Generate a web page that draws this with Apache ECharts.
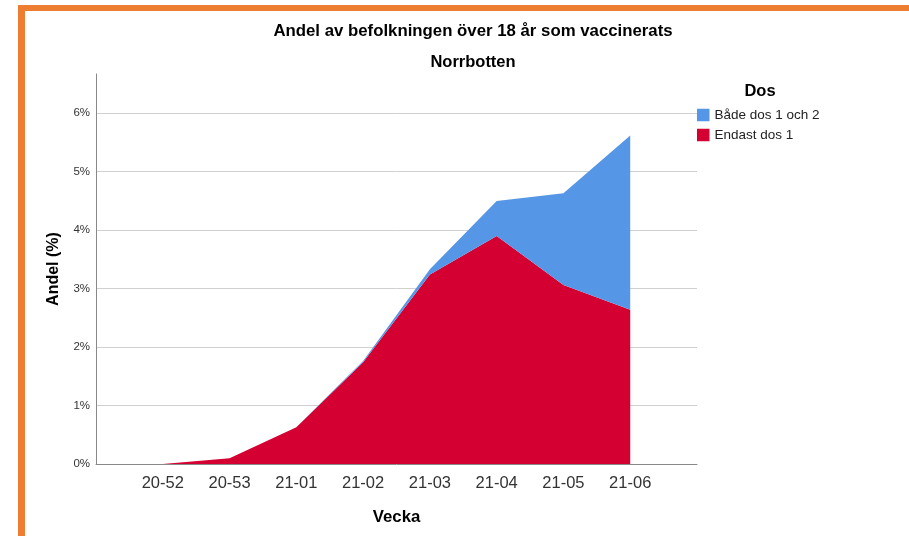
<!DOCTYPE html>
<html>
<head>
<meta charset="utf-8">
<script src="https://cdn.jsdelivr.net/npm/echarts@6/dist/echarts.min.js"></script>
<style>
html,body{margin:0;padding:0;background:#fff;}
#chart{width:909px;height:536px;}
</style>
</head>
<body>
<div id="chart"></div>
<script>
const categories = ['', '20-52', '20-53', '21-01', '21-02', '21-03', '21-04', '21-05', '21-06', ''];
const endastDos1 = [null, 0.0, 0.10, 0.63, 1.74, 3.24, 3.90, 3.06, 2.64, null];
const badaDoser = [null, 0.0, 0.0, 0.0, 0.02, 0.09, 0.60, 1.57, 2.98, null];
const seriesNames = ['Både dos 1 och 2', 'Endast dos 1'];
const titleText = 'Andel av befolkningen över 18 år som vaccinerats';
const subtitleText = 'Norrbotten';
const legendTitle = 'Dos';
const xName = 'Vecka';
const yName = 'Andel (%)';

const BLUE = '#5596E6';
const RED = '#D50032';
const ORANGE = '#ED7D31';
const FONT = 'Liberation Sans, Arial, sans-serif';

const chart = echarts.init(document.getElementById('chart'), null, {renderer: 'canvas'});
chart.setOption({
  animation: false,
  backgroundColor: '#fff',
  textStyle: {fontFamily: FONT},
  title: [
    {text: titleText, left: 468, top: 18, textAlign: 'center',
     textStyle: {fontFamily: FONT, fontSize: 16.8, fontWeight: 'bold', color: '#000'}},
    {text: subtitleText, left: 468, top: 49, textAlign: 'center',
     textStyle: {fontFamily: FONT, fontSize: 16.5, fontWeight: 'bold', color: '#000'}},
    {text: legendTitle, left: 755, top: 78, textAlign: 'center',
     textStyle: {fontFamily: FONT, fontSize: 16.5, fontWeight: 'bold', color: '#000'}}
  ],
  legend: {
    data: seriesNames,
    orient: 'vertical',
    left: 697, top: 108,
    itemWidth: 12.5, itemHeight: 12.5, itemGap: 6,
    icon: 'rect',
    padding: 0,
    textStyle: {fontFamily: FONT, fontSize: 13.5, color: '#222'}
  },
  grid: {left: 96, top: 74, width: 601, bottom: 72, containLabel: false},
  xAxis: {
    type: 'category',
    data: categories,
    boundaryGap: false,
    name: xName,
    nameLocation: 'middle',
    nameGap: 45,
    nameTextStyle: {fontFamily: FONT, fontSize: 16.8, fontWeight: 'bold', color: '#000'},
    axisLine: {lineStyle: {color: '#888', width: 1}},
    axisTick: {show: false},
    axisLabel: {fontFamily: FONT, fontSize: 16.5, color: '#333', margin: 11, interval: 0},
    splitLine: {show: false}
  },
  yAxis: {
    type: 'value',
    min: 0, max: 6.67, interval: 1,
    name: yName,
    nameLocation: 'middle',
    nameGap: 34,
    nameRotate: 90,
    nameTextStyle: {fontFamily: FONT, fontSize: 16, fontWeight: 'bold', color: '#000'},
    axisLine: {show: true, lineStyle: {color: '#888', width: 1}},
    axisTick: {show: false},
    axisLabel: {fontFamily: FONT, fontSize: 11.5, color: '#333', margin: 6, padding: [3, 0, 0, 0],
      showMaxLabel: false, formatter: '{value}%'},
    splitLine: {show: true, showMaxLine: false, showMinLine: false, lineStyle: {color: '#d0d0d0', width: 1}}
  },
  series: [
    {name: seriesNames[1], type: 'line', stack: 'dos', data: endastDos1,
     showSymbol: false, symbol: 'none', lineStyle: {width: 0}, itemStyle: {color: RED},
     areaStyle: {color: RED, opacity: 1}},
    {name: seriesNames[0], type: 'line', stack: 'dos', data: badaDoser,
     showSymbol: false, symbol: 'none', lineStyle: {width: 0}, itemStyle: {color: BLUE},
     areaStyle: {color: BLUE, opacity: 1}}
  ],
  graphic: [
    {type: 'rect', left: 18, top: 5, shape: {width: 7, height: 531}, style: {fill: ORANGE}, z: 100},
    {type: 'rect', left: 18, top: 5, shape: {width: 891, height: 6}, style: {fill: ORANGE}, z: 100}
  ]
});
</script>
</body>
</html>
